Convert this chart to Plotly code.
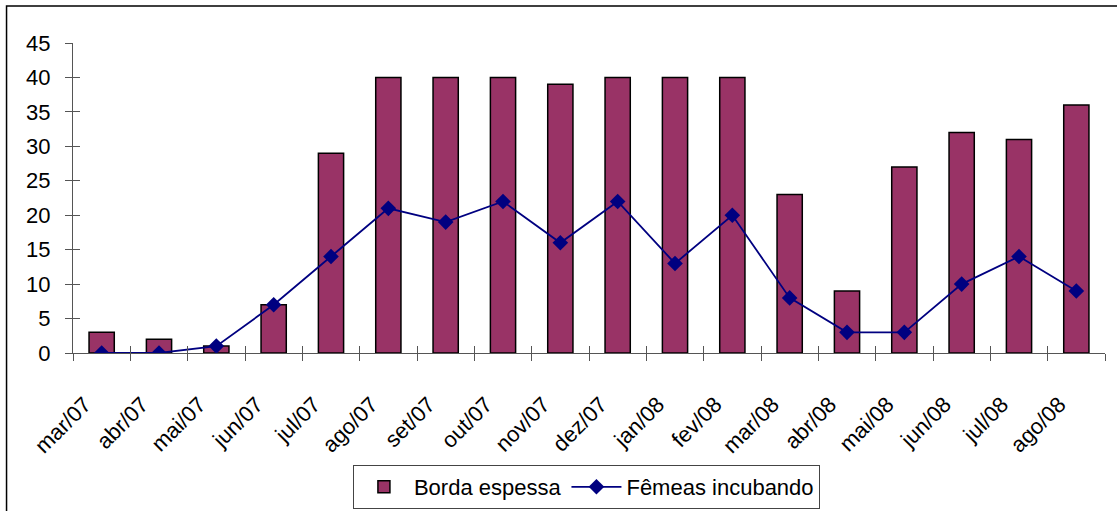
import plotly.graph_objects as go

# Monthly samples, March 2007 to August 2008
months = ["mar/07", "abr/07", "mai/07", "jun/07", "jul/07", "ago/07", "set/07", "out/07",
          "nov/07", "dez/07", "jan/08", "fev/08", "mar/08", "abr/08", "mai/08", "jun/08",
          "jul/08", "ago/08"]
borda_espessa = [3, 2, 1, 7, 29, 40, 40, 40, 39, 40, 40, 40, 23, 9, 27, 32, 31, 36]
femeas_incubando = [0, 0, 1, 7, 14, 21, 19, 22, 16, 22, 13, 20, 8, 3, 3, 10, 14, 9]
y_ticks = [0, 5, 10, 15, 20, 25, 30, 35, 40, 45]

FONT = "Liberation Sans, Arial, sans-serif"
AXIS_COLOR = "#555555"
FS = 22

fig = go.Figure()

fig.add_trace(go.Bar(
    x=months, y=borda_espessa, name="Borda espessa",
    marker=dict(color="#993366", line=dict(color="#000000", width=1.5)),
))
fig.add_trace(go.Scatter(
    x=months, y=femeas_incubando, name="Fêmeas incubando", mode="lines+markers",
    line=dict(color="#000080", width=1.8),
    marker=dict(symbol="diamond", size=12, color="#000080"),
))

# invisible helper trace on the overlay axes so their inside ticks render
fig.add_trace(go.Scatter(
    x=months, y=femeas_incubando, xaxis="x2", yaxis="y2", mode="lines",
    line=dict(width=0), hoverinfo="skip", showlegend=False, opacity=0,
))

fig.update_layout(
    width=1117, height=511,
    margin=dict(l=73, r=12, t=43, b=158, autoexpand=False),
    paper_bgcolor="white", plot_bgcolor="white",
    font=dict(family=FONT, size=FS, color="#000000"),
    bargap=0.56,
    showlegend=True,
    legend=dict(
        orientation="h", xref="container", yref="container",
        x=0.525, xanchor="center", y=1 - 465 / 511, yanchor="top",
        bordercolor="#444444", borderwidth=1, bgcolor="white",
        font=dict(family=FONT, size=FS), itemwidth=50,
    ),
    xaxis=dict(
        type="category", categoryorder="array", categoryarray=months,
        range=[-0.5, len(months) - 0.5], automargin=False,
        tickson="boundaries", ticks="outside", ticklen=7, tickwidth=1, tickcolor=AXIS_COLOR,
        tickangle=-45, ticklabelstandoff=29, ticklabelshift=-17,
        showline=True, linecolor=AXIS_COLOR, linewidth=1,
        showgrid=False, zeroline=False, tickfont=dict(family=FONT, size=FS),
    ),
    yaxis=dict(
        range=[0, 45], tickvals=y_ticks, ticks="outside", ticklen=7, tickwidth=1,
        tickcolor=AXIS_COLOR, showline=True, linecolor=AXIS_COLOR, linewidth=1,
        automargin=False, ticklabelstandoff=10,
        showgrid=False, zeroline=False, tickfont=dict(family=FONT, size=FS),
    ),
    # overlay axes giving the crossing tick marks
    xaxis2=dict(
        type="category", categoryorder="array", categoryarray=months,
        range=[-0.5, len(months) - 0.5], overlaying="x", anchor="y", automargin=False,
        tickson="boundaries", ticks="inside", ticklen=7, tickwidth=1, tickcolor=AXIS_COLOR,
        showticklabels=False, showline=False, showgrid=False, zeroline=False,
    ),
    yaxis2=dict(
        range=[0, 45], tickvals=y_ticks, overlaying="y", anchor="x", side="left",
        automargin=False,
        ticks="inside", ticklen=7, tickwidth=1, tickcolor=AXIS_COLOR,
        showticklabels=False, showline=False, showgrid=False, zeroline=False,
    ),
    shapes=[
        # chart frame (left and top edges)
        dict(type="path", xref="paper", yref="paper",
             path="M -0.0644,-1 L -0.0644,1.119 L 1.2,1.119",
             line=dict(color="#000000", width=1.5)),
    ],
)

fig.write_html("out.html")
